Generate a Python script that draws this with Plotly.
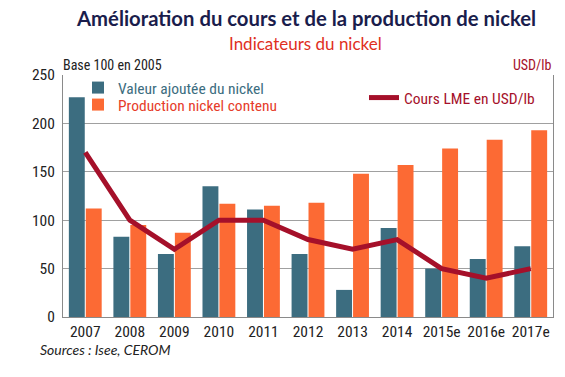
import plotly.graph_objects as go

years = ["2007", "2008", "2009", "2010", "2011", "2012", "2013", "2014", "2015e", "2016e", "2017e"]
valeur_ajoutee = [227, 83, 65, 135, 111, 65, 28, 92, 50, 60, 73]
production = [112, 95, 87, 117, 115, 118, 148, 157, 174, 183, 193]
cours_lme = [17, 10, 7, 10, 10, 8, 7, 8, 5, 4, 5]

left_ticks = [0, 50, 100, 150, 200, 250]
right_ticks = [0, 5, 10, 15, 20, 25]

TEAL = "#3c6d80"
ORANGE = "#fc6a34"
DARKRED = "#a5102a"
COND = "Roboto Condensed, sans-serif"

# The page body has an 8px default margin; all positions below are screen pixels
OFF = 8
W, H = 565 - OFF, 377 - OFF
SX0, SX1, SY0, SY1 = 63, 553, 75, 317  # plot area on screen
L, T = SX0 - OFF, SY0 - OFF
R, B = W - (SX1 - OFF), H - (SY1 - OFF)
PW, PH = SX1 - SX0, SY1 - SY0


def px(x):
    return (x - SX0) / PW


def py(y):
    return (SY1 - y) / PH


fig = go.Figure()
fig.add_trace(go.Bar(x=years, y=valeur_ajoutee, name="Valeur ajoutée du nickel", showlegend=True,
                     marker=dict(color=TEAL, line=dict(width=0)), legend="legend"))
fig.add_trace(go.Bar(x=years, y=production, name="Production nickel contenu", showlegend=True,
                     marker=dict(color=ORANGE, line=dict(width=0)), legend="legend2"))
fig.add_trace(go.Scatter(x=years, y=cours_lme, name="Cours LME en USD/lb", mode="lines", showlegend=True,
                         line=dict(color=DARKRED, width=5), yaxis="y2", legend="legend3"))

fig.update_layout(
    width=W, height=H,
    margin=dict(l=L, r=R, t=T, b=B, autoexpand=False),
    paper_bgcolor="white", plot_bgcolor="white",
    barmode="group", bargap=0.24, bargroupgap=0.06,
    showlegend=True,
    font=dict(family=COND, color="#222222", size=15),
    xaxis=dict(type="category", showgrid=False, showline=True, linecolor="#8a8a8a",
               linewidth=1, ticks="", tickangle=0, automargin=False,
               tickfont=dict(size=15.5, family=COND, color="#222222")),
    yaxis=dict(range=[0, 250], tickvals=left_ticks, showgrid=True, gridcolor="#a0a0a0",
               gridwidth=1, showline=True, linecolor="#8a8a8a", zeroline=False, ticks="",
               automargin=False, ticklabelstandoff=4,
               tickfont=dict(size=15.5, family=COND, color="#222222")),
    yaxis2=dict(range=[0, 25], tickvals=right_ticks, overlaying="y", side="right",
                showgrid=False, showline=True, linecolor="#8a8a8a", zeroline=False,
                ticks="", automargin=False, ticklabelstandoff=1,
                tickfont=dict(size=15.5, family=COND, color=DARKRED)),
    legend=dict(x=px(78), y=py(88), xanchor="left", yanchor="middle", bgcolor="rgba(0,0,0,0)",
                font=dict(size=15.5, family=COND, color=TEAL), itemwidth=30, borderwidth=0),
    legend2=dict(x=px(78), y=py(105), xanchor="left", yanchor="middle", bgcolor="rgba(0,0,0,0)",
                 font=dict(size=15.5, family=COND, color="#e63c2a"), itemwidth=30, borderwidth=0),
    legend3=dict(x=px(364), y=py(98), xanchor="left", yanchor="middle", bgcolor="rgba(0,0,0,0)",
                 font=dict(size=15.5, family=COND, color=DARKRED), itemwidth=30, borderwidth=0),
    annotations=[
        dict(text="<b>Amélioration du cours et de la production de nickel</b>", xref="paper", yref="paper",
             x=px(305.5), y=py(18), xanchor="center", yanchor="middle", showarrow=False,
             font=dict(family="Lato, sans-serif", size=20.3, color="#1a1d4c")),
        dict(text="Indicateurs du nickel", xref="paper", yref="paper",
             x=px(305), y=py(43), xanchor="center", yanchor="middle", showarrow=False,
             font=dict(family="Lato, sans-serif", size=17, color="#e0301e")),
        dict(text="Base 100 en 2005", xref="paper", yref="paper", x=px(61), y=py(65),
             xanchor="left", yanchor="middle", showarrow=False,
             font=dict(family=COND, size=14, color="#222222")),
        dict(text="USD/lb", xref="paper", yref="paper", x=px(554), y=py(65),
             xanchor="right", yanchor="middle", showarrow=False,
             font=dict(family=COND, size=14, color=DARKRED)),
        dict(text="<i>Sources : Isee, CEROM</i>", xref="paper", yref="paper", x=px(38), y=py(350),
             xanchor="left", yanchor="middle", showarrow=False,
             font=dict(family="Lato, sans-serif", size=14, color="#222222")),
    ],
)

fig.write_html("out.html")
